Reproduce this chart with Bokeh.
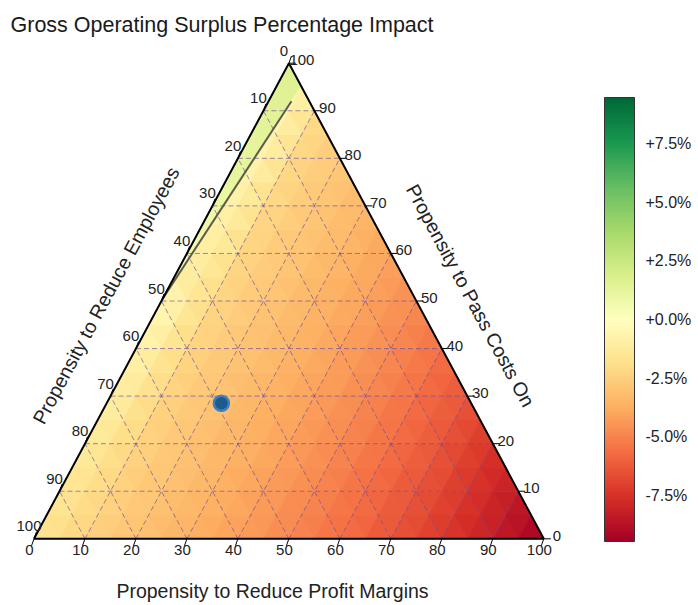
import numpy as np
from bokeh.plotting import figure
from bokeh.models import (ColumnDataSource, LinearColorMapper, ColorBar, FixedTicker,
                          PrintfTickFormatter, Range1d)
from bokeh.transform import transform
from bokeh.core.properties import value
from bokeh.embed import file_html
from bokeh.resources import INLINE

# ---------------------------------------------------------------- data
title_text = "Gross Operating Surplus Percentage Impact"
bottom_label = "Propensity to Reduce Profit Margins"   # m
left_label = "Propensity to Reduce Employees"          # e
right_label = "Propensity to Pass Costs On"            # c

tick_values = [0, 10, 20, 30, 40, 50, 60, 70, 80, 90, 100]
grid_step = 5

# GOS impact (%) at the ternary grid nodes.  Each list is one level of
# "Pass Costs On" (c); entries are "Reduce Profit Margins" m = 0, 5, 10 ... 100 - c
gos_c000 = [-1.65, -2.00, -2.35, -2.68, -3.00, -3.30, -3.60, -3.90, -4.20, -4.55, -4.90,
            -5.25, -5.60, -6.00, -6.40, -6.83, -7.25, -7.75, -8.25, -8.83, -9.40]
gos_c005 = [-1.53, -1.92, -2.33, -2.66, -2.99, -3.29, -3.59, -3.89, -4.19, -4.54, -4.89,
            -5.24, -5.60, -6.00, -6.40, -6.84, -7.29, -7.80, -8.30, -8.88]
gos_c010 = [-1.40, -1.84, -2.31, -2.65, -2.97, -3.27, -3.57, -3.88, -4.18, -4.53, -4.87,
            -5.23, -5.59, -6.00, -6.40, -6.86, -7.33, -7.83, -8.35]
gos_c015 = [-1.27, -1.75, -2.29, -2.63, -2.96, -3.26, -3.56, -3.86, -4.17, -4.51, -4.86,
            -5.22, -5.59, -5.99, -6.40, -6.87, -7.37, -7.88]
gos_c020 = [-1.14, -1.67, -2.28, -2.61, -2.94, -3.24, -3.55, -3.85, -4.15, -4.50, -4.84,
            -5.21, -5.58, -5.99, -6.40, -6.89, -7.40]
gos_c025 = [-1.02, -1.59, -2.25, -2.60, -2.93, -3.23, -3.53, -3.84, -4.14, -4.49, -4.83,
            -5.20, -5.57, -5.98, -6.40, -6.90]
gos_c030 = [-0.89, -1.50, -2.24, -2.58, -2.91, -3.21, -3.52, -3.82, -4.13, -4.47, -4.81,
            -5.19, -5.57, -5.98, -6.40]
gos_c035 = [-0.76, -1.42, -2.22, -2.56, -2.90, -3.20, -3.50, -3.81, -4.12, -4.46, -4.80,
            -5.18, -5.56, -5.98]
gos_c040 = [-0.61, -1.33, -2.20, -2.55, -2.88, -3.18, -3.49, -3.79, -4.10, -4.44, -4.78,
            -5.16, -5.55]
gos_c045 = [-0.46, -1.25, -2.18, -2.53, -2.86, -3.17, -3.47, -3.78, -4.09, -4.43, -4.77, -5.15]
gos_c050 = [-0.28, -1.17, -2.16, -2.52, -2.85, -3.15, -3.46, -3.77, -4.08, -4.42, -4.75]
gos_c055 = [0.40, -1.10, -2.14, -2.50, -2.83, -3.14, -3.45, -3.75, -4.06, -4.40]
gos_c060 = [0.60, -1.02, -2.12, -2.48, -2.82, -3.12, -3.43, -3.74, -4.05]
gos_c065 = [0.75, -0.95, -2.10, -2.47, -2.80, -3.11, -3.42, -3.73]
gos_c070 = [0.90, -0.88, -2.08, -2.45, -2.78, -3.09, -3.40]
gos_c075 = [1.05, -0.81, -2.06, -2.43, -2.77, -3.08]
gos_c080 = [1.20, -0.74, -2.04, -2.42, -2.75]
gos_c085 = [1.30, -0.67, -2.02, -2.40]
gos_c090 = [1.45, -0.60, -2.00]
gos_c095 = [1.55, -0.50]
gos_c100 = [1.65]

# current position (m, e, c)
point_m = [22.5]
point_e = [49.0]
point_c = [28.5]

# zero-impact contour (m, c)
zero_contour_m = [0.0, 4.5]
zero_contour_c = [50.5, 92.0]

cbar_low, cbar_high = -9.45, 9.45
cbar_ticks = [-7.5, -5.0, -2.5, 0.0, 2.5, 5.0, 7.5]

# ---------------------------------------------------------------- layout
W, H = 697, 604
FRAME_TOP = 42
TRI_LEFT_PX, TRI_RIGHT_PX = 33.5, 543.3
TRI_BASE_PX, TRI_APEX_PX = 538.3, 62.7
kx = (TRI_RIGHT_PX - TRI_LEFT_PX) / 100.0
ky = (TRI_BASE_PX - TRI_APEX_PX) / 100.0
x0 = -TRI_LEFT_PX / kx
x1 = (W - TRI_LEFT_PX) / kx
y0 = -(H - TRI_BASE_PX) / ky
y1 = (TRI_BASE_PX - FRAME_TOP) / ky

CB_LEFT_PX, CB_TOP_PX, CB_W, CB_H = 604, 97, 30, 444

FONT = "Liberation Sans"
TXT = "#222222"


def tern(m, c):
    m = np.asarray(m, dtype=float)
    c = np.asarray(c, dtype=float)
    return m + c / 2.0, c


def px_to_data(px, py):
    return (px - TRI_LEFT_PX) / kx, (TRI_BASE_PX - py) / ky


# RdYlGn colour map
anchors = ['#a50026', '#d73027', '#f46d43', '#fdae61', '#fee08b', '#ffffbf',
           '#d9ef8b', '#a6d96a', '#66bd63', '#1a9850', '#006837']


def h2rgb(h):
    return [int(h[i:i + 2], 16) for i in (1, 3, 5)]


palette = []
for k in range(256):
    t = k / 255 * 10
    i = min(int(t), 9)
    f = t - i
    a, b = h2rgb(anchors[i]), h2rgb(anchors[i + 1])
    palette.append('#%02x%02x%02x' % tuple(int(round(u + (v - u) * f)) for u, v in zip(a, b)))
mapper = LinearColorMapper(palette=palette, low=cbar_low, high=cbar_high)

p = figure(width=W, height=H, output_backend="svg", toolbar_location=None,
           x_range=Range1d(x0, x1), y_range=Range1d(y0, y1),
           x_axis_location=None, y_axis_location=None,
           min_border_left=0, min_border_right=0, min_border_bottom=0,
           min_border_top=FRAME_TOP, title=title_text)
p.grid.visible = False
p.outline_line_color = None
p.title.text_font = FONT
p.title.text_font_size = "21.5px"
p.title.text_font_style = "normal"
p.title.text_color = "#1a1a1a"
p.title.align = "left"
p.title.offset = 10
p.title.standoff = 12


# ---------------------------------------------------------------- heat map
def clip(poly, a, b, c):
    out = []
    for k in range(len(poly)):
        P, Q = poly[k], poly[(k + 1) % len(poly)]
        fp = a * P[0] + b * P[1] + c
        fq = a * Q[0] + b * Q[1] + c
        if fp >= 0:
            out.append(P)
        if (fp >= 0) != (fq >= 0):
            t = fp / (fp - fq)
            out.append((P[0] + t * (Q[0] - P[0]), P[1] + t * (Q[1] - P[1])))
    return out


def area(poly):
    if len(poly) < 3:
        return 0.0
    s = 0.0
    for k in range(len(poly)):
        (xa, ya), (xb, yb) = poly[k], poly[(k + 1) % len(poly)]
        s += xa * yb - xb * ya
    return abs(s) / 2


zX, zY = tern(zero_contour_m, zero_contour_c)
la, lb = (zY[1] - zY[0]), -(zX[1] - zX[0])
lc = -(la * zX[0] + lb * zY[0])
refX, refY = tern(0, 75)
sgn = 1.0 if la * refX + lb * refY + lc > 0 else -1.0
LEFT = (sgn * la, sgn * lb, sgn * lc)
RIGHT = (-sgn * la, -sgn * lb, -sgn * lc)
ABOVE = (0.0, 1.0, -zY[0])
BELOW = (0.0, -1.0, zY[0])

rows = [gos_c000, gos_c005, gos_c010, gos_c015, gos_c020, gos_c025, gos_c030,
        gos_c035, gos_c040, gos_c045, gos_c050, gos_c055, gos_c060, gos_c065,
        gos_c070, gos_c075, gos_c080, gos_c085, gos_c090, gos_c095, gos_c100]
n = len(rows) - 1
node = {}
for j, row in enumerate(rows):
    for i, v in enumerate(row):
        node[(i, j)] = v
cxs, cys, cvs = [], [], []


def add_cell(poly, v):
    if area(poly) > 1e-9:
        cxs.append([q[0] for q in poly])
        cys.append([q[1] for q in poly])
        cvs.append(v)


for j in range(n):
    for i in range(n - j):
        tris = [[(i, j), (i + 1, j), (i, j + 1)]]
        if i <= n - j - 2:
            tris.append([(i + 1, j), (i + 1, j + 1), (i, j + 1)])
        for tri in tris:
            X, Y = tern([a * grid_step for a, _ in tri], [b * grid_step for _, b in tri])
            poly = list(zip(X, Y))
            vals = [node[q] for q in tri]
            pos = [v for v in vals if v >= 0]
            neg = [v for v in vals if v < 0]
            if pos and neg:
                add_cell(clip(clip(poly, *LEFT), *ABOVE), sum(pos) / len(pos))
                add_cell(clip(poly, *RIGHT), sum(neg) / len(neg))
                add_cell(clip(clip(poly, *LEFT), *BELOW), sum(neg) / len(neg))
            else:
                add_cell(poly, sum(vals) / 3.0)

cell_src = ColumnDataSource(dict(xs=cxs, ys=cys, v=cvs))
p.patches('xs', 'ys', source=cell_src, fill_color=transform('v', mapper),
          line_color=transform('v', mapper), line_width=0.8)

# dashed grid
gx, gy = [], []
for t in tick_values[1:-1]:
    for (ma, ca), (mb, cb_) in [((0, t), (100 - t, t)),
                                ((t, 0), (t, 100 - t)),
                                ((100 - t, 0), (0, 100 - t))]:
        X, Y = tern([ma, mb], [ca, cb_])
        gx.append(list(X))
        gy.append(list(Y))
p.multi_line(gx, gy, line_color="#6a4c9c", line_alpha=0.65, line_width=1, line_dash="5 3")

# zero contour
p.line(zX, zY, line_color="#5c5c4a", line_width=2)

# triangle border
bx, by = tern([0, 100, 0, 0], [0, 0, 100, 0])
p.line(bx, by, line_color="black", line_width=2)

# ticks + tick labels
tv = np.array(tick_values, dtype=float)
bX, bY = tern(tv, 0 * tv)
lX, lY = tern(0 * tv, 100 - tv)
rX, rY = tern(100 - tv, tv)
p.segment(bX, bY, bX - 2.5 / kx, bY - 7 / ky, line_color="black", line_width=1)
p.segment(lX, lY, lX + 2.5 / kx, lY + 7 / ky, line_color="black", line_width=1)
p.segment(rX, rY, rX + 7 / kx, rY, line_color="black", line_width=1)
labels = [str(int(t)) for t in tick_values]
for X, Y, dx, dy in [(bX, bY, -4.5, 11), (lX, lY, -5, -12.5), (rX, rY, 13, -3)]:
    p.text(x=list(X), y=list(Y), text=labels, x_offset=dx, y_offset=dy,
           text_align="center", text_baseline="middle", text_font=value(FONT),
           text_font_size="15px", text_color=TXT)

# axis titles
ang = np.arctan2(ky * 100, kx * 50)
tX, tY = tern([50, 0, 50], [0, 50, 50])
p.text(x=[tX[0]], y=[tY[0]], text=[bottom_label], x_offset=-16.4, y_offset=52,
       text_align="center", text_baseline="middle", text_font=value(FONT),
       text_font_size="19.5px", text_color=TXT)
p.text(x=[tX[1]], y=[tY[1]], text=[left_label], x_offset=-55.5, y_offset=-5.5, angle=ang,
       text_align="center", text_baseline="middle", text_font=value(FONT),
       text_font_size="19.5px", text_color=TXT)
p.text(x=[tX[2]], y=[tY[2]], text=[right_label], x_offset=54.2, y_offset=-5.5, angle=-ang,
       text_align="center", text_baseline="middle", text_font=value(FONT),
       text_font_size="19.5px", text_color=TXT)

# current point
ptX, ptY = tern(point_m, point_c)
p.scatter(ptX, ptY, size=15, fill_color="#1d5b8f", line_color="#3a80c2", line_width=2.5)

# colour bar
cb = ColorBar(color_mapper=mapper, ticker=FixedTicker(ticks=cbar_ticks),
              formatter=PrintfTickFormatter(format="%+.1f%%"),
              width=CB_W, height=CB_H, location=(CB_LEFT_PX, H - CB_TOP_PX - CB_H),
              padding=0, label_standoff=11,
              major_label_text_font=FONT, major_label_text_font_size="16px",
              major_label_text_color=TXT, major_tick_line_color=None,
              minor_tick_line_color=None, bar_line_color="#333333", bar_line_width=1,
              border_line_color=None, background_fill_alpha=0)
p.add_layout(cb)

# zero level on the colour bar
zero_py = CB_TOP_PX + CB_H * (cbar_high - 0.0) / (cbar_high - cbar_low)
za = px_to_data(CB_LEFT_PX, zero_py)
zb = px_to_data(CB_LEFT_PX + CB_W, zero_py)
p.segment([za[0]], [za[1]], [zb[0]], [zb[1]], line_color="#5c5c4a", line_width=2)

open("out.html", "w").write(file_html(p, INLINE))
